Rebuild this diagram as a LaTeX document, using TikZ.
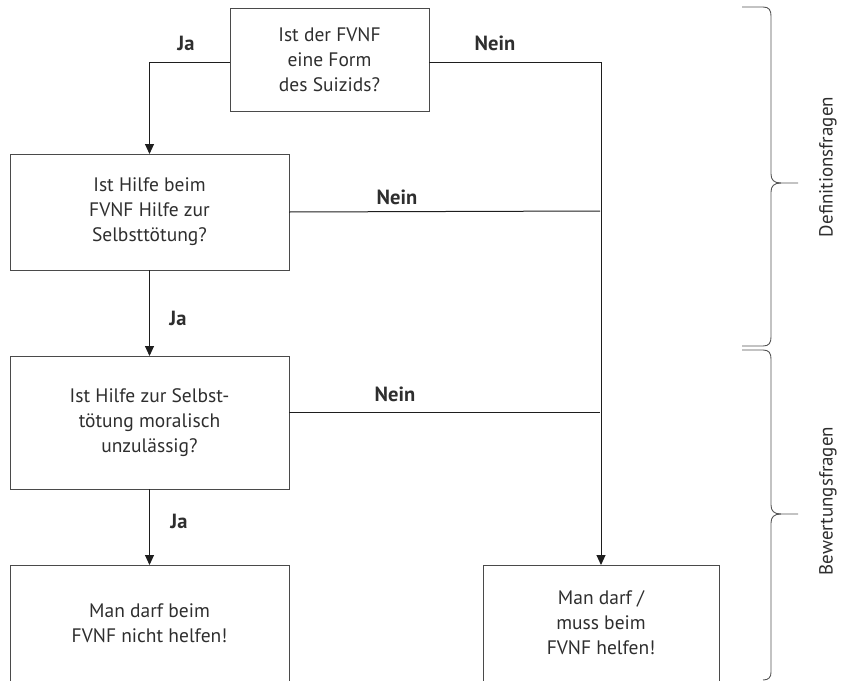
\documentclass[tikz,border=0pt]{standalone}
\usepackage{fontspec}
\setmainfont{PT Sans}
\usetikzlibrary{arrows.meta}
\definecolor{txt}{HTML}{2E2E2E}
\definecolor{edge}{HTML}{4A4A4A}
\definecolor{ln}{HTML}{1E1E1E}
\definecolor{br}{HTML}{555555}
\begin{document}
\begin{tikzpicture}[x=1pt,y=-1pt,
  qbox/.style={draw=edge, line width=1pt, rectangle, outer sep=0pt, inner sep=2pt,
    align=center, text=txt, font=\fontsize{19.5}{25}\selectfont},
  lab/.style={text=txt, font=\fontsize{20.5}{22}\selectfont\bfseries, inner sep=0pt},
  side/.style={text=txt, font=\fontsize{19}{21}\selectfont, rotate=90, inner sep=0pt},
  conn/.style={draw=ln, line width=1pt},
  arr/.style={conn, -{Triangle[width=9pt,length=10pt]}},
  bracel/.style={draw=br, line width=0.9pt}]
\useasboundingbox (0,0) rectangle (842,680);
% boxes
\node[qbox, minimum width=199pt, minimum height=103pt] (A) at (329.5,59.5)
  {Ist der FVNF\\eine Form\\des Suizids?};
\node[qbox, minimum width=279pt, minimum height=116pt] (B) at (149.5,212)
  {Ist Hilfe beim\\FVNF Hilfe zur\\Selbsttötung?};
\node[qbox, minimum width=279pt, minimum height=133pt] (C) at (149.5,422.5)
  {Ist Hilfe zur Selbst-\\tötung moralisch\\unzulässig?};
\node[qbox, minimum width=279pt, minimum height=116pt] (D) at (149.5,623)
  {Man darf beim\\FVNF nicht helfen!};
\node[qbox, minimum width=236pt, minimum height=116pt] (E) at (601,623)
  {Man darf /\\muss beim\\FVNF helfen!};
% junction points on the right vertical line
\coordinate (jB) at (600,211);
\coordinate (jC) at (600,412.5);
% connectors
\draw[arr] ([yshift=-2.5pt]A.west) -| (B.north);
\draw[arr] ([yshift=-2.5pt]A.east) -| (E.north);
\draw[conn] (B.east) -- (jB);
\draw[conn] ([yshift=10pt]C.east) -- (jC);
\draw[arr] (B.south) -- (C.north);
\draw[arr] (C.south) -- (D.north);
% labels
\node[lab] (ja1) at (186,43) {Ja};
\node[lab] (nein1) at (495,43) {Nein};
\node[lab] (nein2) at (397,197) {Nein};
\node[lab] (ja2) at (178,318) {Ja};
\node[lab] (nein3) at (395,394) {Nein};
\node[lab] (ja3) at (179,521) {Ja};
% braces
\draw[bracel] (742,7) -- (763,7) .. controls (769,7) and (771,10) .. (771,16)
  -- (771,174) .. controls (771,180) and (774,183) .. (781,183) -- (798,183);
\draw[bracel] (781,183) .. controls (774,183) and (771,186) .. (771,192)
  -- (771,337) .. controls (771,343) and (769,346) .. (763,346) -- (742,346);
\draw[bracel] (742,350) -- (763,350) .. controls (769,350) and (771,353) .. (771,359)
  -- (771,505) .. controls (771,511) and (774,514) .. (781,514) -- (798,514);
\draw[bracel] (781,514) .. controls (774,514) and (771,517) .. (771,523)
  -- (771,672) .. controls (771,677) and (769,680) .. (763,680);
\node[side] (def) at (828,167) {Definitionsfragen};
\node[side] (bew) at (828,501) {Bewertungsfragen};
\end{tikzpicture}
\end{document}
